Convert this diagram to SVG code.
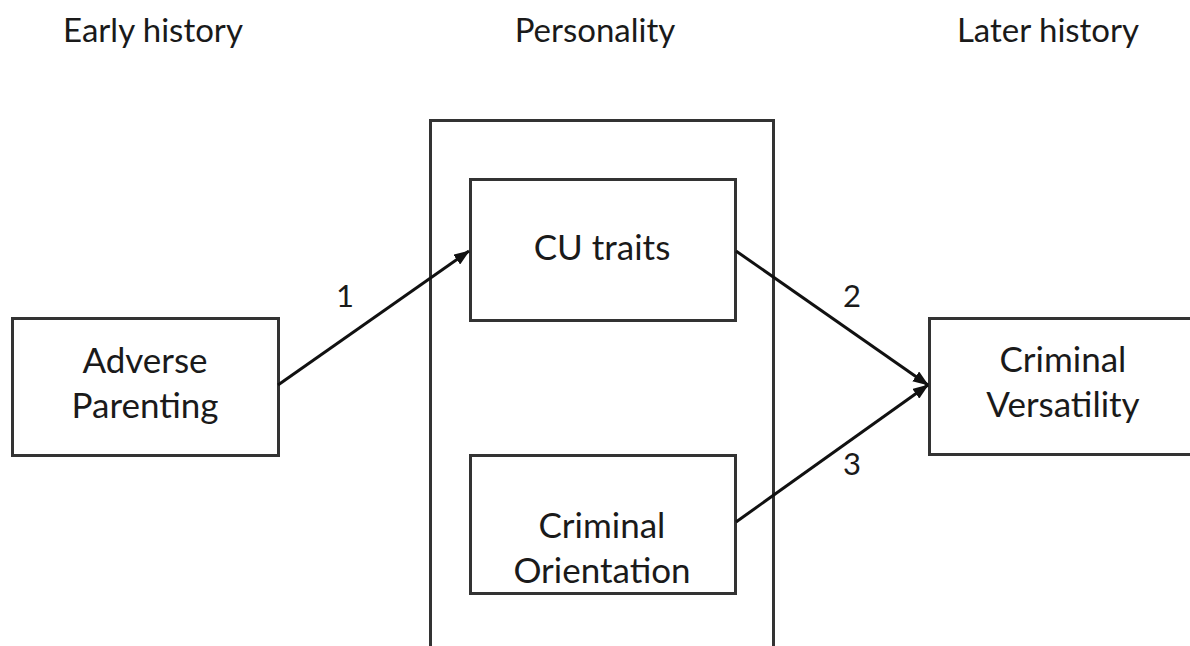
<svg xmlns="http://www.w3.org/2000/svg" width="1190" height="646" viewBox="0 0 1190 646">
<defs>
<style>
.box{fill:#fff;stroke:#333;stroke-width:3}
.outer{fill:none;stroke:#333;stroke-width:3}
.hdr{font-family:Lato,"Open Sans",sans-serif;font-size:33px;fill:#1a1a1a;text-anchor:middle}
.lbl{font-family:Lato,"Open Sans",sans-serif;font-size:35px;fill:#1a1a1a;text-anchor:middle}
.num{font-family:Lato,"Open Sans",sans-serif;font-size:31px;fill:#1a1a1a;text-anchor:middle}
.con{stroke:#111;stroke-width:3;fill:none}
</style>
<marker id="ah" viewBox="0 0 16 12" refX="15" refY="6" markerWidth="16" markerHeight="12" orient="auto" markerUnits="userSpaceOnUse">
<path d="M0,0 L16,6 L0,12 z" fill="#111"/>
</marker>
</defs>
<rect width="1190" height="646" fill="#fff"/>
<g id="headers">
<text class="hdr" x="153" y="42">Early history</text>
<text class="hdr" x="595" y="42">Personality</text>
<text class="hdr" x="1048" y="42">Later history</text>
</g>
<g id="personality">
<rect class="outer" x="430.5" y="120.5" width="343" height="540"/>
</g>
<g id="adverse-parenting">
<rect class="box" x="12.5" y="318.5" width="266" height="137"/>
<text class="lbl" x="145" y="373">Adverse</text>
<text class="lbl" x="145" y="418">Parenting</text>
</g>
<g id="cu-traits">
<rect class="box" x="470.5" y="179.5" width="265" height="141"/>
<text class="lbl" x="602" y="260">CU traits</text>
</g>
<g id="criminal-orientation">
<rect class="box" x="470.5" y="455.5" width="265" height="138"/>
<text class="lbl" x="602" y="538">Criminal</text>
<text class="lbl" x="602" y="583">Orientation</text>
</g>
<g id="criminal-versatility">
<rect class="box" x="929.5" y="318.5" width="270" height="136"/>
<text class="lbl" x="1063" y="372">Criminal</text>
<text class="lbl" x="1063" y="417">Versatility</text>
</g>
<g id="connectors">
<line class="con" x1="278" y1="385" x2="469" y2="251" marker-end="url(#ah)"/>
<line class="con" x1="736" y1="251" x2="928" y2="385" marker-end="url(#ah)"/>
<line class="con" x1="736" y1="522" x2="928" y2="385" marker-end="url(#ah)"/>
<text class="num" x="345" y="307">1</text>
<text class="num" x="852" y="307">2</text>
<text class="num" x="852" y="475">3</text>
</g>
</svg>
